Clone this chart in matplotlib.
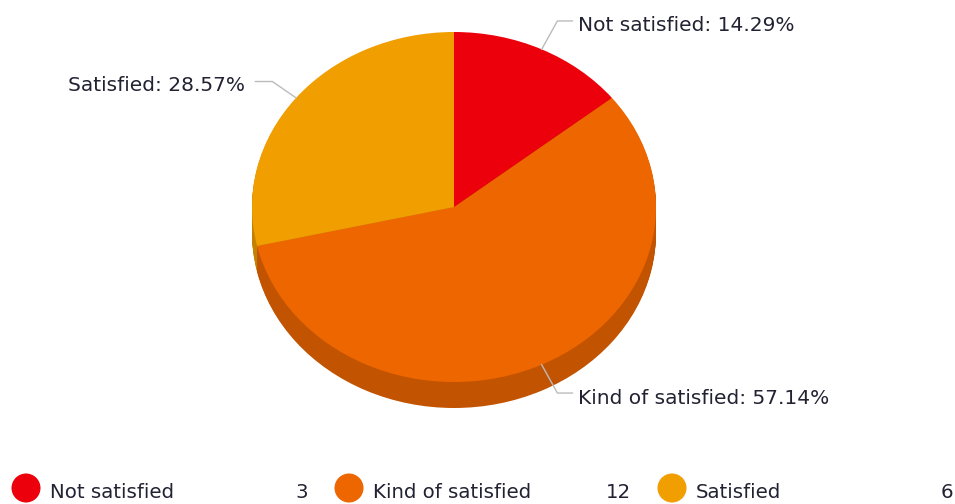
import numpy as np
import matplotlib
matplotlib.use("Agg")
import matplotlib.pyplot as plt

categories = ["Not satisfied", "Kind of satisfied", "Satisfied"]
counts = [3, 12, 6]
top_colors = ["#EC000B", "#EE6600", "#F09E00"]
side_colors = ["#BC0009", "#C25300", "#C48100"]

W, H = 955, 504
CX, CY = 454, 207        # centre of the top face, pixels
RX, RY = 202, 175        # ellipse radii, pixels
DEPTH = 26               # thickness of the pie, pixels

plt.rcParams['font.family'] = ['DejaVu Sans']

fig = plt.figure(figsize=(W / 100, H / 100), dpi=100)

# pie axes: unit circle stretched to the ellipse
ax = fig.add_axes([0, 0, 1, 1])
ax.axis('off')

# overlay in pixel coordinates for labels and legend
ov = fig.add_axes([0, 0, 1, 1], facecolor='none')
ov.set_xlim(0, W)
ov.set_ylim(H, 0)
ov.axis('off')

# extruded side: stack of darker pies
for d in range(DEPTH, 0, -1):
    ax.pie(counts, colors=side_colors, startangle=90, counterclock=False,
           radius=1, center=(0, -d / RY), wedgeprops=dict(linewidth=0))
ax.pie(counts, colors=top_colors, startangle=90, counterclock=False,
       radius=1, center=(0, 0), wedgeprops=dict(linewidth=0))
ax.set_xlim(-CX / RX, (W - CX) / RX)
ax.set_ylim(-(H - CY) / RY, CY / RY)
ax.set_aspect('auto')


def to_px(theta, r):
    # theta measured clockwise from 12 o'clock
    return CX + np.sin(theta) * r * RX, CY - np.cos(theta) * r * RY


total = sum(counts)
pcts = [100 * c / total for c in counts]
start = 0.0
line_c = "#BBBBBB"
text_c = "#222233"
label_size = 14.5
for name, p in zip(categories, pcts):
    mid = np.radians((start + p / 2) * 3.6)
    start += p
    x0, y0 = to_px(mid, 1.0)
    right = np.sin(mid) >= 0
    x1, y1 = to_px(mid, 1.18 if right else 1.15)
    x2 = x1 + (15 if right else -17)
    ov.plot([x0, x1, x2], [y0, y1, y1], color=line_c, lw=1)
    ov.text(x2 + (6 if right else -10), y1 + (10.5 if right else 9),
            f"{name}: {p:.2f}%",
            ha='left' if right else 'right', va='baseline',
            fontsize=label_size, color=text_c)

# legend row along the bottom edge
leg_y = 488
leg_base = 498.5
leg_x = [26, 349, 672]
val_right = [308, 631, 953]
leg_size = 14.2
for name, c, col, lx, vx in zip(categories, counts, top_colors, leg_x, val_right):
    ov.add_patch(plt.Circle((lx, leg_y), 14.5, color=col, lw=0))
    ov.text(lx + 24, leg_base, name, ha='left', va='baseline',
            fontsize=leg_size, color=text_c)
    ov.text(vx, leg_base, str(c), ha='right', va='baseline',
            fontsize=leg_size, color=text_c)

fig.savefig("out.png", dpi=100)
